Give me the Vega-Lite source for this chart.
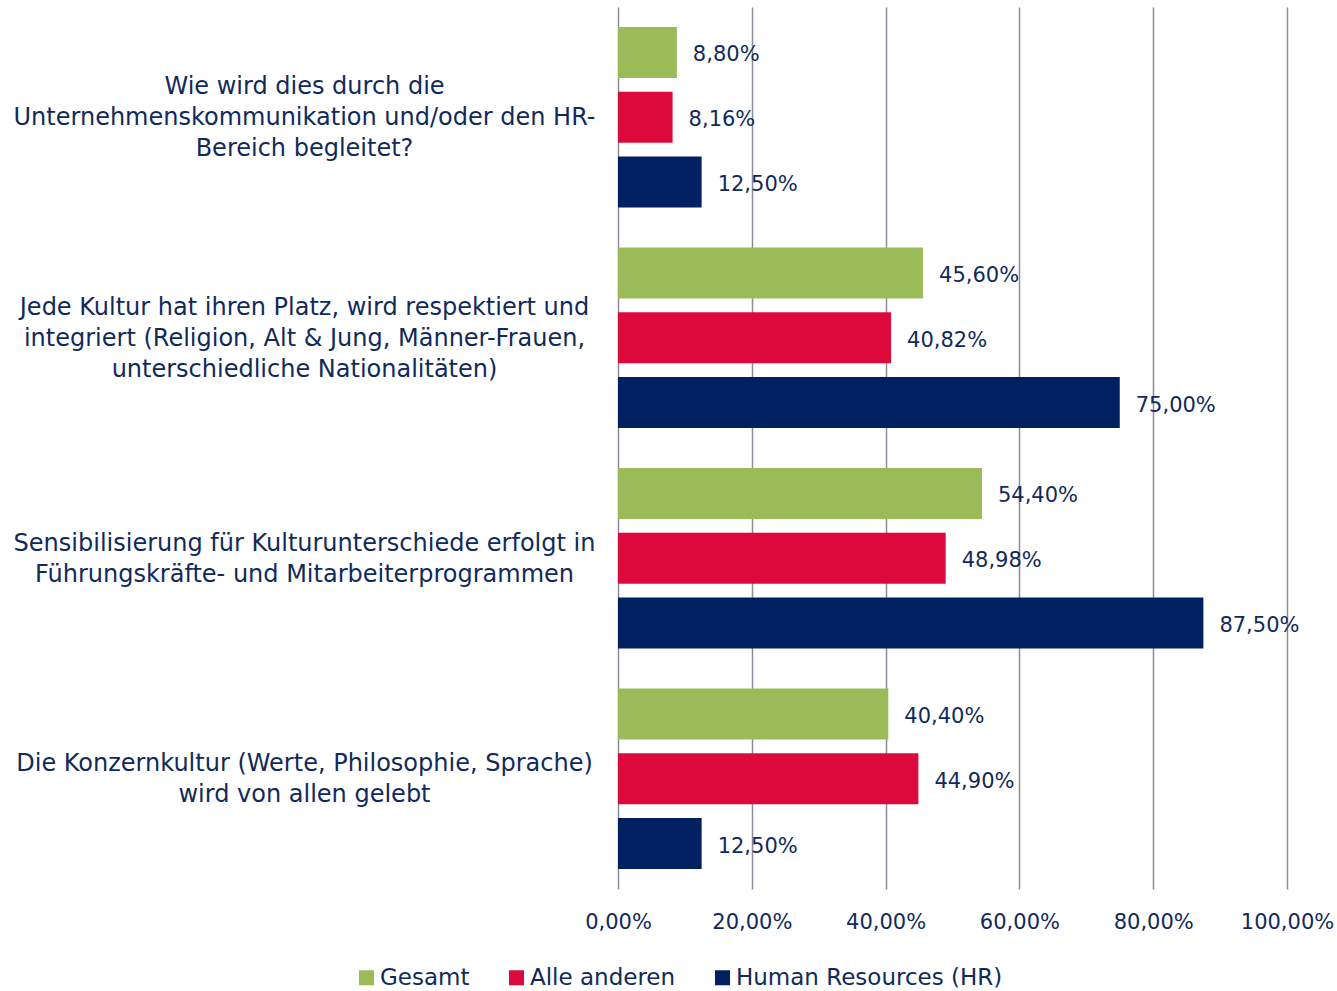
{
  "$schema": "https://vega.github.io/schema/vega-lite/v6.json",
  "width": 669,
  "height": 882,
  "autosize": "none",
  "padding": {"left": 618, "top": 7, "right": 50, "bottom": 102},
  "background": "white",
  "config": {
    "locale": {"number": {"decimal": ",", "thousands": ".", "grouping": [3], "currency": ["", " €"]}},
    "font": "DejaVu Sans",
    "view": {"stroke": null},
    "axis": {"labelFont": "DejaVu Sans", "labelColor": "#102A5C"},
    "legend": {"labelFont": "DejaVu Sans", "labelColor": "#102A5C"}
  },
  "data": {
    "values": [
      {"frage": "Wie wird dies durch die|Unternehmenskommunikation und/oder den HR-|Bereich begleitet?", "gruppe": "Gesamt", "wert": 0.088},
      {"frage": "Wie wird dies durch die|Unternehmenskommunikation und/oder den HR-|Bereich begleitet?", "gruppe": "Alle anderen", "wert": 0.0816},
      {"frage": "Wie wird dies durch die|Unternehmenskommunikation und/oder den HR-|Bereich begleitet?", "gruppe": "Human Resources (HR)", "wert": 0.125},
      {"frage": "Jede Kultur hat ihren Platz, wird respektiert und|integriert (Religion, Alt & Jung, Männer-Frauen,|unterschiedliche Nationalitäten)", "gruppe": "Gesamt", "wert": 0.456},
      {"frage": "Jede Kultur hat ihren Platz, wird respektiert und|integriert (Religion, Alt & Jung, Männer-Frauen,|unterschiedliche Nationalitäten)", "gruppe": "Alle anderen", "wert": 0.4082},
      {"frage": "Jede Kultur hat ihren Platz, wird respektiert und|integriert (Religion, Alt & Jung, Männer-Frauen,|unterschiedliche Nationalitäten)", "gruppe": "Human Resources (HR)", "wert": 0.75},
      {"frage": "Sensibilisierung für Kulturunterschiede erfolgt in|Führungskräfte- und Mitarbeiterprogrammen", "gruppe": "Gesamt", "wert": 0.544},
      {"frage": "Sensibilisierung für Kulturunterschiede erfolgt in|Führungskräfte- und Mitarbeiterprogrammen", "gruppe": "Alle anderen", "wert": 0.4898},
      {"frage": "Sensibilisierung für Kulturunterschiede erfolgt in|Führungskräfte- und Mitarbeiterprogrammen", "gruppe": "Human Resources (HR)", "wert": 0.875},
      {"frage": "Die Konzernkultur (Werte, Philosophie, Sprache)|wird von allen gelebt", "gruppe": "Gesamt", "wert": 0.404},
      {"frage": "Die Konzernkultur (Werte, Philosophie, Sprache)|wird von allen gelebt", "gruppe": "Alle anderen", "wert": 0.449},
      {"frage": "Die Konzernkultur (Werte, Philosophie, Sprache)|wird von allen gelebt", "gruppe": "Human Resources (HR)", "wert": 0.125}
    ]
  },
  "encoding": {
    "y": {
      "field": "frage", "type": "nominal", "sort": null,
      "scale": {"paddingInner": 0.1814, "paddingOuter": 0.0907},
      "axis": {
        "title": null, "ticks": false, "domain": false,
        "labelExpr": "split(datum.label, '|')",
        "labelAlign": "center", "labelBaseline": "middle",
        "labelOffset": {"condition": {"test": "length(split(datum.label, '|')) == 3", "value": -30}, "value": -14.5},
        "labelPadding": 314, "labelFontSize": 24, "labelLineHeight": 31,
        "labelLimit": 700
      }
    },
    "yOffset": {
      "field": "gruppe", "type": "nominal", "sort": ["Gesamt", "Alle anderen", "Human Resources (HR)"],
      "scale": {"paddingInner": 0.215, "paddingOuter": 0}
    },
    "x": {
      "field": "wert", "type": "quantitative",
      "scale": {"domain": [0, 1], "nice": false},
      "axis": {
        "title": null, "format": ".2%", "values": [0, 0.2, 0.4, 0.6, 0.8, 1],
        "grid": true, "gridColor": "#8C8C9C", "gridWidth": 1.5,
        "domain": false, "ticks": false, "labelFlush": false, "labelOverlap": false,
        "labelFontSize": 21, "labelPadding": 33, "labelBaseline": "middle"
      }
    }
  },
  "layer": [
    {
      "mark": {"type": "bar"},
      "encoding": {
        "color": {
          "field": "gruppe", "type": "nominal",
          "sort": ["Gesamt", "Alle anderen", "Human Resources (HR)"],
          "scale": {"domain": ["Gesamt", "Alle anderen", "Human Resources (HR)"], "range": ["#9BBB59", "#DC0A3C", "#002060"]},
          "legend": {
            "title": null, "orient": "none", "direction": "horizontal",
            "legendX": -263, "legendY": 959,
            "symbolType": "square", "symbolSize": 225, "symbolStrokeWidth": 0,
            "symbolOpacity": 1, "labelFontSize": 23, "labelOffset": 2, "labelLimit": 400,
            "columnPadding": 35
          }
        }
      }
    },
    {
      "mark": {"type": "text", "align": "left", "baseline": "middle", "dx": 16, "dy": 3, "fontSize": 21, "color": "#102A5C"},
      "encoding": {
        "text": {"field": "wert", "type": "quantitative", "format": ".2%"}
      }
    }
  ]
}
